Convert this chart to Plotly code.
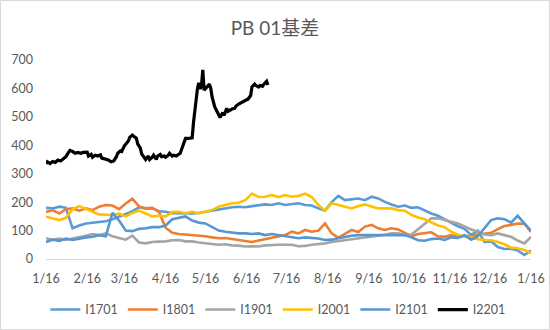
import pandas as pd
import plotly.graph_objects as go

base_date = "2021-01-16"
end_date = "2022-01-16"

# x positions: day offsets from 1/16 (every 5 days for the contract series)
grid_days = list(range(0, 366, 5))

i1701 = [180, 178, 184, 180, 108, 118, 125, 128, 131, 133, 140, 148, 158, 168, 182, 178, 178, 168, 166, 161,
         160, 161, 160, 162, 166, 170, 176, 180, 182, 184, 182, 186, 188, 192, 190, 196, 190, 194, 196, 190,
         188, 178, 170, 200, 222, 207, 210, 213, 207, 219, 213, 201, 192, 184, 188, 180, 182, 170, 160, 152,
         140, 128, 115, 106, 84, 100, 60, 62, 42, 35, 36, 30, 14, 30]
i1801 = [165, 172, 160, 175, 178, 170, 178, 172, 184, 190, 188, 175, 195, 212, 185, 178, 180, 166, 110, 92,
         88, 86, 84, 84, 80, 76, 73, 74, 70, 67, 62, 60, 65, 70, 74, 80, 84, 96, 90, 102,
         96, 100, 125, 90, 75, 88, 102, 95, 114, 120, 108, 102, 108, 104, 92, 80, 88, 92, 94, 80,
         78, 84, 78, 82, 80, 86, 90, 92, 105, 116, 120, 125, 124, 95]
i1901 = [73, 68, 72, 67, 72, 76, 82, 88, 84, 90, 80, 74, 68, 82, 58, 55, 60, 61, 62, 66,
         67, 62, 62, 58, 56, 54, 50, 52, 48, 47, 44, 45, 44, 48, 50, 50, 50, 50, 45, 46,
         50, 52, 55, 60, 63, 67, 70, 73, 75, 78, 82, 85, 90, 90, 84, 86, 105, 125, 143, 143,
         138, 131, 125, 114, 104, 96, 86, 84, 90, 84, 78, 65, 55, 78]
i2001 = [149, 143, 137, 145, 175, 186, 175, 166, 157, 155, 155, 160, 150, 162, 170, 160, 150, 152, 150, 165,
         166, 161, 166, 161, 166, 172, 184, 190, 196, 198, 207, 230, 218, 219, 225, 218, 225, 219, 222, 230,
         218, 190, 170, 196, 190, 184, 178, 186, 192, 185, 178, 178, 178, 172, 170, 155, 146, 140, 128, 118,
         112, 96, 85, 78, 76, 70, 67, 66, 60, 52, 40, 38, 32, 20]
i2101 = [60, 68, 64, 72, 67, 72, 76, 78, 84, 80, 162, 135, 100, 98, 106, 108, 112, 112, 118, 140,
         145, 150, 135, 128, 125, 112, 100, 96, 92, 90, 90, 88, 90, 84, 88, 84, 80, 76, 73, 76,
         74, 72, 67, 68, 73, 78, 82, 84, 84, 84, 84, 84, 84, 86, 84, 76, 66, 64, 70, 72,
         67, 76, 74, 84, 68, 80, 108, 137, 143, 140, 128, 152, 125, 100]

i2201_days = [0, 1, 3, 5, 7, 9, 11, 13, 15, 16, 18, 20, 22, 24, 26, 28, 31, 32, 34, 35,
              37, 39, 41, 42, 44, 47, 49, 51, 53, 54, 56, 57, 59, 60, 62, 63, 65, 66, 68, 69,
              71, 72, 74, 75, 77, 78, 80, 81, 83, 84, 86, 87, 89, 90, 92, 93, 95, 96, 98, 99,
              101, 102, 104, 105, 107, 108, 110, 111, 113, 114, 115, 116, 117, 118, 119, 120, 121, 123, 124, 125,
              127, 128, 130, 131, 133, 134, 136, 137, 139, 140, 142, 143, 145, 146, 148, 149, 151, 152, 154, 155,
              157, 158, 160, 161, 163, 164, 166, 167]
i2201 = [335, 342, 336, 343, 340, 348, 345, 352, 360, 368, 382, 378, 372, 375, 372, 375, 376, 362, 368, 358,
         365, 362, 366, 355, 352, 348, 342, 345, 360, 372, 380, 378, 398, 405, 415, 428, 436, 432, 425, 405,
         390, 370, 355, 350, 362, 350, 358, 365, 350, 362, 368, 360, 362, 358, 365, 372, 362, 365, 362, 366,
         372, 385, 410, 424, 424, 424, 426, 480, 570, 600, 620, 598, 610, 665, 594, 600, 605, 615, 600, 570,
         535, 525, 505, 498, 515, 505, 530, 520, 525, 528, 530, 538, 545, 548, 552, 555, 560, 562, 575, 605,
         615, 610, 605, 610, 608, 615, 625, 612]

names = ["I1701", "I1801", "I1901", "I2001", "I2101", "I2201"]
colors = ["#5B9BD5", "#ED7D31", "#A5A5A5", "#FFC000", "#5596D3", "#000000"]

b = pd.Timestamp(base_date)
grid_dates = [b + pd.Timedelta(days=d) for d in grid_days]
i2201_dates = [b + pd.Timedelta(days=d) for d in i2201_days]

series = [
    (grid_dates, i1701), (grid_dates, i1801), (grid_dates, i1901),
    (grid_dates, i2001), (grid_dates, i2101), (i2201_dates, i2201),
]

fig = go.Figure()
for (xs, ys), name, col in zip(series, names, colors):
    fig.add_trace(go.Scatter(
        x=xs, y=ys, mode="lines", name=name,
        line=dict(color=col, width=3.2 if name == "I2201" else 2.6),
    ))

font_family = "Lato, 'Noto Sans CJK SC', sans-serif"
fig.update_layout(
    width=550, height=330,
    margin=dict(l=46, r=19, t=60, b=71, autoexpand=False),
    paper_bgcolor="white", plot_bgcolor="white",
    font=dict(family=font_family, color="#595959", size=12),
    title=dict(text="PB 01基差", x=0.5, xanchor="center", y=1 - 28 / 330, yanchor="middle",
               font=dict(size=19, color="#595959", family=font_family)),
    showlegend=True,
    legend=dict(orientation="h", x=0.478, xanchor="center", y=-0.256, yanchor="middle",
                font=dict(size=12.5, color="#595959"), itemwidth=30, tracegroupgap=0),
    xaxis=dict(type="date", range=[base_date, end_date], tick0=base_date, dtick="M1",
               tickformat="%-m/%-d", showgrid=False, zeroline=False,
               showline=True, linecolor="#D9D9D9", linewidth=1, ticks="",
               ticklabelstandoff=8, tickfont=dict(size=12.5, color="#595959")),
    yaxis=dict(range=[0, 700], dtick=100, showgrid=False, zeroline=False, showline=False,
               ticks="", ticklabelstandoff=12, tickfont=dict(size=12.5, color="#595959")),
)

fig.add_shape(type="rect", xref="paper", yref="paper",
              x0=(0.5 - 46) / 485, x1=(549.5 - 46) / 485,
              y0=(259 - 329.5) / 199, y1=(259 - 0.5) / 199,
              line=dict(color="#D9D9D9", width=1), fillcolor="rgba(0,0,0,0)", layer="below")

fig.write_html("out.html")
